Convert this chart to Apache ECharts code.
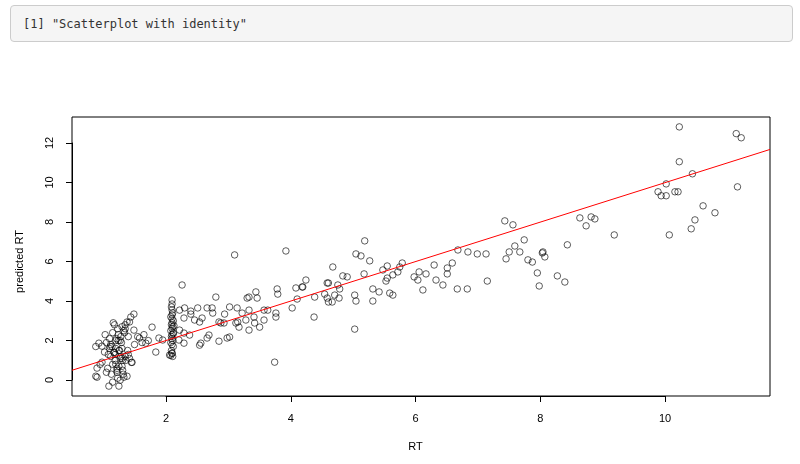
<!DOCTYPE html>
<html><head><meta charset="utf-8">
<script src="https://cdn.jsdelivr.net/npm/echarts@6/dist/echarts.min.js"></script>
<style>
body{margin:0;width:800px;height:464px;background:#fff;position:relative;overflow:hidden}
#c{position:absolute;left:0;top:0;width:800px;height:464px}
#hdr{position:absolute;left:10px;top:5px;width:783px;height:37px;background:#f5f5f5;border:1px solid #ccc;border-radius:4px;box-sizing:border-box;font-family:"DejaVu Sans Mono",monospace;font-size:12px;color:#333;line-height:37px;padding-left:12px;z-index:2}
</style></head><body>
<div id="c"></div>
<div id="hdr">[1] "Scatterplot with identity"</div>
<script>
const title = '[1] "Scatterplot with identity"';
const xTicks = [2,4,6,8,10];
const yTicks = [0,2,4,6,8,10,12];
const rt = [10.21,11.12,11.2,10.21,10.42,10.0,9.87,9.92,10.0,10.14,10.19,11.14,10.59,10.78,10.46,10.4,10.05,9.17,8.62,8.72,8.8,8.86,8.42,8.38,8.26,7.97,7.94,8.06,8.02,8.03,7.86,7.79,7.73,7.66,7.58,7.49,7.44,7.42,7.55,7.14,7.12,6.98,6.83,6.67,6.82,6.66,6.58,6.5,6.5,6.43,6.32,6.29,6.16,6.11,6.05,6.03,5.97,5.78,5.74,5.71,5.63,5.63,5.58,5.54,5.52,5.54,5.47,5.41,5.31,5.31,5.26,5.18,5.17,5.12,5.04,5.02,5.04,5.02,4.9,4.83,4.78,4.75,4.77,4.67,4.7,4.58,4.6,4.54,4.58,4.6,4.66,4.38,4.37,4.24,4.19,
3.1,3.92,2.26,3.74,4.08,4.18,4.1,4.02,3.78,3.79,3.76,3.76,3.57,3.63,3.57,3.5,3.42,3.44,3.46,3.33,3.3,3.33,3.41,3.33,3.28,3.22,3.15,3.12,3.17,3.14,3.02,2.94,2.93,3.02,2.98,2.85,2.88,2.85,2.8,2.74,2.75,2.66,2.69,2.66,2.58,2.54,2.46,2.51,2.56,2.54,2.4,2.4,2.3,2.29,2.38,2.29,2.22,2.22,2.29,2.21,
2.1,2.1,2.09,2.1,2.11,2.1,2.08,2.1,2.12,2.1,2.09,2.11,2.1,2.08,2.12,2.1,2.09,2.1,2.11,2.08,2.1,2.12,2.09,2.1,2.08,2.11,2.13,2.06,2.1,2.12,
1.95,1.89,1.84,1.78,1.68,1.58,1.62,1.72,1.55,1.65,
1.49,1.44,1.38,1.42,1.35,1.49,0.93,0.98,0.9,0.9,1.09,1.25,1.33,0.98,1.02,0.88,0.88,0.95,1.05,1.1,1.15,1.2,1.25,1.3,1.35,1.4,1.45,1.22,1.18,1.28,1.32,1.12,1.08,1.24,1.3,1.36,1.2,1.15,1.27,1.33,1.1,1.05,1.18,1.22,1.26,1.3,1.38,1.42,1.14,1.2,1.24,1.28,1.16,1.12,1.22,1.3,1.34,1.4,1.46,1.5,1.19,1.23,1.27,1.31,1.17,1.21,1.25,1.29,1.13,1.35,1.39,1.03,1.07,1.11,1.23,1.27,1.19,1.15,1.31];
const pred = [12.8,12.46,12.25,11.04,10.43,9.92,9.52,9.32,9.32,9.52,9.52,9.77,8.81,8.46,8.1,7.65,7.34,7.34,8.2,7.8,8.25,8.15,6.84,4.96,5.27,4.76,5.42,6.23,6.43,6.48,5.97,6.08,7.09,6.48,6.78,6.48,6.13,8.05,7.85,5.01,6.38,6.38,6.48,6.58,4.61,4.61,5.92,5.67,5.37,4.81,5.06,5.82,5.37,4.56,5.47,5.06,5.22,5.92,5.72,5.47,5.32,4.3,4.4,5.16,5.01,5.77,5.57,4.46,4.61,4.0,6.03,7.04,5.37,6.28,6.38,4.3,4.0,2.58,5.22,5.27,4.61,4.81,4.15,5.72,4.3,4.91,4.91,4.35,4.15,3.95,3.95,4.2,3.19,5.06,4.71,
6.33,6.53,4.81,0.91,4.66,4.71,4.1,3.65,4.61,4.35,3.39,3.19,3.54,3.54,3.04,2.68,2.89,4.46,4.15,4.2,4.15,3.54,3.19,2.53,3.04,3.39,2.94,2.89,2.68,3.65,3.7,3.34,2.89,2.18,2.13,1.97,2.89,2.94,4.2,3.65,3.39,3.65,2.28,2.13,3.14,2.94,3.04,3.65,1.87,1.77,3.49,3.34,3.65,2.38,2.28,3.14,3.54,2.53,1.87,2.03,
4.05,3.85,3.7,3.55,3.4,3.3,3.2,3.1,3.0,2.9,2.8,2.7,2.6,2.5,2.4,2.3,2.2,2.1,2.0,1.9,1.8,1.7,1.5,1.35,1.25,1.2,2.75,1.27,1.37,2.35,
2.03,2.13,1.42,2.68,1.87,2.13,1.9,2.0,2.2,2.3,
3.34,3.19,2.94,2.94,2.8,2.53,1.87,1.72,0.61,0.15,-0.3,-0.3,0.15,0.91,1.42,1.7,0.2,0.8,0.4,1.6,2.4,2.0,1.5,1.1,2.6,2.2,0.9,0.5,2.8,1.2,0.3,1.8,1.3,2.3,0.7,1.0,1.6,-0.1,0.0,2.5,2.1,1.9,1.4,0.6,1.5,2.7,0.2,1.1,1.7,0.8,2.0,2.2,2.9,1.2,0.4,1.6,2.4,1.3,0.9,1.8,1.0,2.6,1.1,0.5,1.4,2.1,0.7,1.9,0.3,1.2,1.5,2.3,0.6,1.7,0.1,2.0,1.3,0.8,1.0,1.6];
const pts = rt.map((v,i)=>[v,pred[i]]);
const lineX = [0.5, 11.66];
const c = echarts.init(document.getElementById('c'));
const font = {fontFamily:'Liberation Sans', fontSize:11, color:'#000'};
c.setOption({
  animation:false,
  grid:[
    {left:72,right:30,top:117,bottom:68,show:true,borderColor:'#000',borderWidth:1},
    {left:166,right:135,top:117,bottom:68},
    {left:72,right:30,top:143,bottom:84}
  ],
  xAxis:[
    {gridIndex:0,type:'value',min:0.5,max:11.66,show:false},
    {gridIndex:1,type:'value',min:2,max:10,interval:2,offset:9,axisLine:{show:true,lineStyle:{color:'#000'}},axisTick:{show:true,length:6,lineStyle:{color:'#000'}},splitLine:{show:false},axisLabel:Object.assign({margin:8},font),name:'RT',nameLocation:'middle',nameGap:36,nameTextStyle:font},
    {gridIndex:2,type:'value',min:0,max:1,show:false}
  ],
  yAxis:[
    {gridIndex:0,type:'value',min:-0.8,max:13.3,show:false},
    {gridIndex:1,type:'value',min:0,max:1,show:false},
    {gridIndex:2,type:'value',min:0,max:12,interval:2,offset:9,axisLine:{show:true,lineStyle:{color:'#000'}},axisTick:{show:true,length:6,lineStyle:{color:'#000'}},splitLine:{show:false},axisLabel:Object.assign({rotate:90,margin:8,align:'center'},font),name:'predicted RT',nameLocation:'middle',nameGap:38,nameTextStyle:font}
  ],
  series:[
    {type:'scatter',xAxisIndex:0,yAxisIndex:0,data:pts,symbol:'circle',symbolSize:6.5,itemStyle:{color:'rgba(0,0,0,0)',borderColor:'#000',borderWidth:0.8},silent:true},
    {type:'line',xAxisIndex:0,yAxisIndex:0,data:lineX.map(v=>[v,v]),showSymbol:false,lineStyle:{color:'#ff0000',width:1},silent:true}
  ]
});
</script></body></html>
